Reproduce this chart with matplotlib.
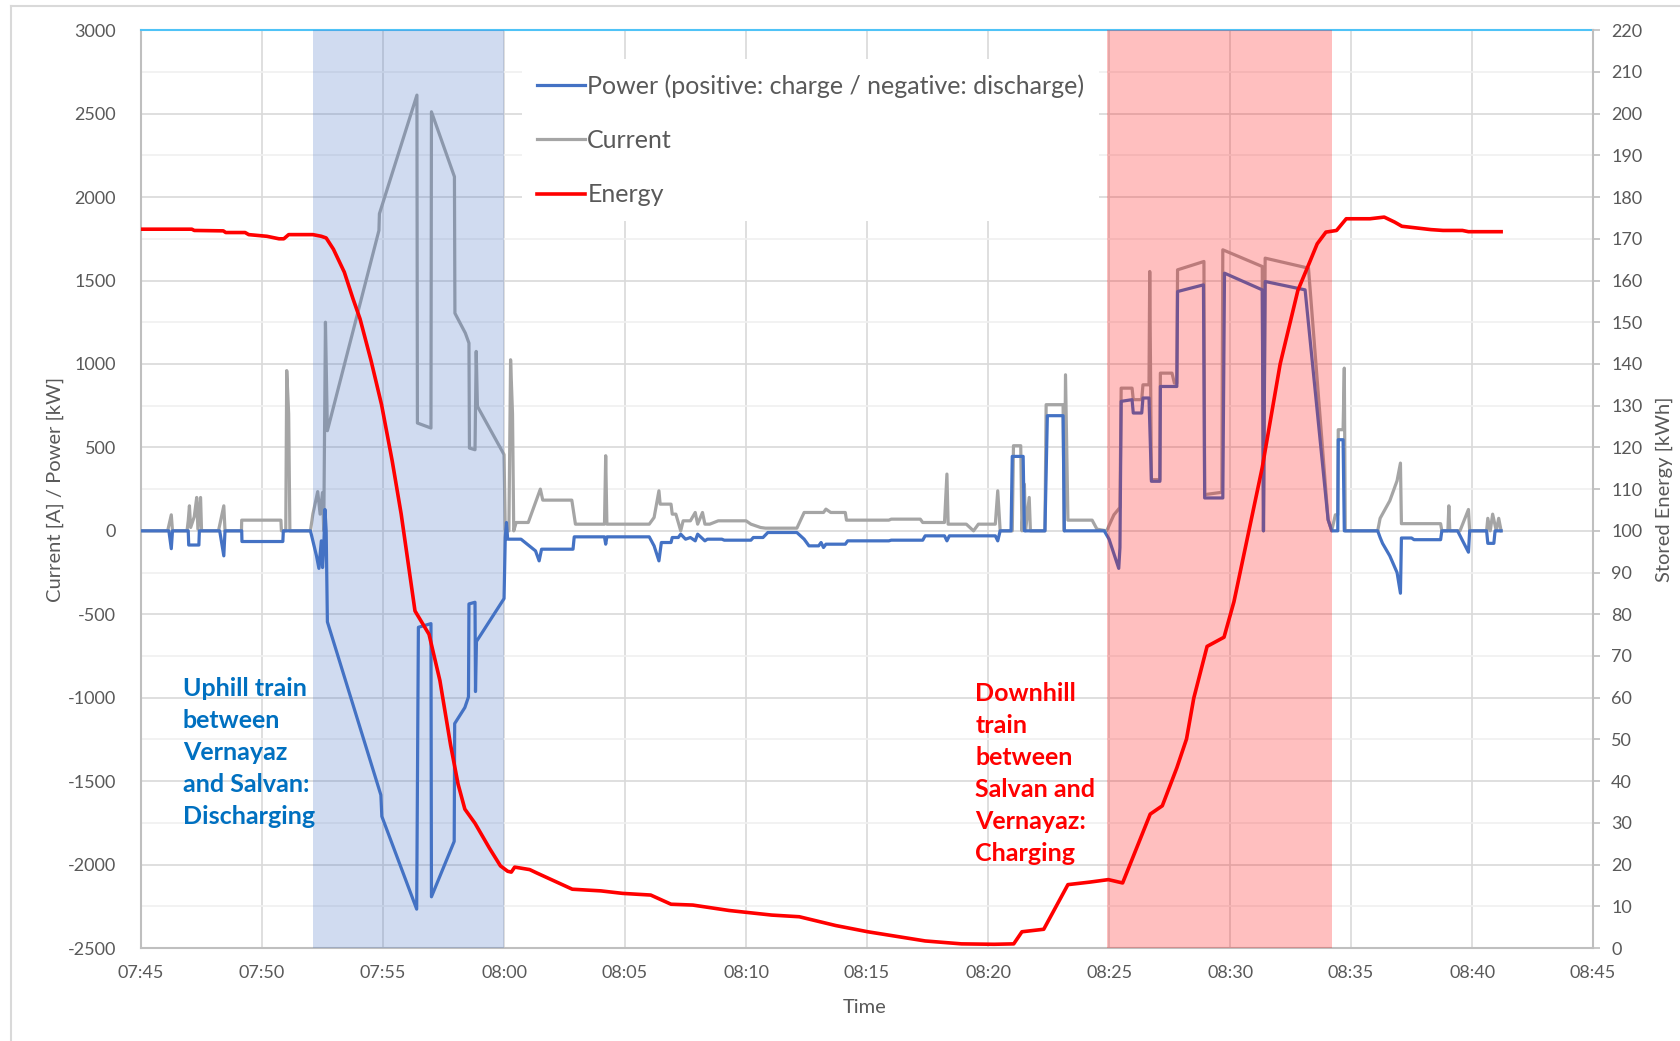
import matplotlib
matplotlib.use("Agg")
import matplotlib.pyplot as plt
from matplotlib.ticker import MultipleLocator, FuncFormatter
from matplotlib.lines import Line2D

plt.rcParams['font.family'] = ['Lato', 'DejaVu Sans']
plt.rcParams['axes.unicode_minus'] = False

# time is in minutes after 07:45
cur_t = [0, 1.1, 1.25, 1.3, 1.9, 1.95, 2.0, 2.05, 2.2, 2.3, 2.35, 2.46, 2.5, 3.2, 3.42, 3.47,
         4.15, 4.16, 5.78, 5.8, 5.98, 6.02, 6.1, 6.15, 7.0, 7.1, 7.3, 7.4, 7.5, 7.55, 7.62, 7.7,
         9.83, 9.85, 11.4, 11.42, 11.98, 12.0, 12.95, 12.97, 13.4, 13.55, 13.57, 13.8, 13.85, 13.9,
         15.0, 15.05, 15.2, 15.27, 15.35, 15.4, 15.5, 16.0, 16.5, 16.6, 17.8, 17.95, 19.15, 19.2,
         19.25, 21.0, 21.2, 21.4, 21.45, 21.9, 21.95, 22.1, 22.3, 22.4, 22.7, 22.9, 23.0, 23.2,
         23.3, 23.5, 23.85, 25.0, 25.2, 25.6, 25.8, 27.1, 27.4, 28.2, 28.3, 28.5, 29.1, 29.15,
         30.9, 31.0, 32.2, 32.3, 33.2, 33.3, 33.35, 34.1, 34.4, 34.6, 35.3, 35.4, 35.5, 36.0,
         36.05, 36.35, 36.4, 36.5, 36.55, 36.7, 36.75, 37.35, 37.4, 38.1, 38.15, 38.2, 38.3, 39.3,
         39.5, 39.9, 40.2, 40.45, 40.5, 40.95, 41.0, 41.35, 41.4, 41.65, 41.68, 41.75, 42.1, 42.12,
         42.6, 42.7, 42.8, 42.83, 43.92, 43.95, 44.66, 44.7, 46.33, 46.38, 46.45, 48.24, 49.05,
         49.2, 49.35, 49.45, 49.47, 49.67, 49.72, 49.76, 51.1, 51.2, 51.6, 51.9, 52.04, 52.08,
         53.7, 53.75, 54.0, 54.04, 54.08, 54.5, 54.85, 54.9, 55.6, 55.65, 55.75, 55.85, 56.0,
         56.1, 56.2]
cur_v = [0, 0, 96, 0, 0, 60, 150, 20, 85, 200, 10, 200, 0, 0, 150, 0,
         0, 64, 64, 0, 0, 960, 700, 0, 0, 100, 235, 100, 230, 0, 1250, 600,
         1800, 1900, 2611, 646, 616, 2511, 2122, 1304, 1185, 1125, 496, 486, 1075, 746,
         457, 0, 0, 1025, 700, 0, 50, 50, 250, 184, 184, 40, 40, 450,
         40, 40, 80, 240, 160, 160, 100, 100, 0, 60, 60, 110, 40, 110,
         40, 40, 60, 60, 40, 20, 16, 16, 110, 110, 130, 110, 110, 64,
         64, 70, 70, 50, 50, 340, 40, 40, 0, 40, 40, 240, 0, 0,
         510, 510, 0, 280, 0, 200, 0, 0, 756, 756, 0, 935, 64, 64,
         10, 0, 96, 140, 855, 855, 786, 786, 875, 875, 1554, 307, 307, 945,
         945, 885, 885, 1564, 1614, 217, 231, 1684, 1584, 0, 1634, 1574, 67,
         0, 96, 96, 606, 606, 975, 0, 0, 75, 180, 300, 406, 43,
         43, 0, 0, 150, 0, 0, 128, 0, 0, 75, 0, 100, 0,
         75, 0]

pow_t = [0, 1.15, 1.25, 1.3, 1.95, 1.97, 2.39, 2.41, 3.25, 3.42, 3.47, 4.16, 4.17, 5.86, 5.88,
         7.0, 7.1, 7.25, 7.35, 7.45, 7.5, 7.55, 7.6, 7.65, 7.7, 9.91, 9.95, 11.39, 11.46, 11.98,
         12.0, 12.94, 12.96, 13.38, 13.53, 13.55, 13.8, 13.82, 13.86, 15.0, 15.05, 15.1, 15.15,
         15.7, 16.3, 16.45, 16.55, 17.85, 17.9, 19.15, 19.2, 19.25, 21.0, 21.2, 21.4, 21.5, 21.9,
         21.95, 22.2, 22.3, 22.5, 22.7, 22.9, 23.0, 23.3, 23.4, 24.0, 24.1, 25.2, 25.3, 25.7, 25.9,
         27.1, 27.4, 27.6, 28.0, 28.1, 28.2, 28.3, 29.1, 29.2, 30.9, 31.0, 32.3, 32.4, 33.2, 33.3,
         33.4, 35.3, 35.4, 35.5, 35.95, 36.0, 36.45, 36.5, 37.35, 37.45, 38.1, 38.15,
         39.8, 40.0, 40.4, 40.45, 40.5, 40.95, 41.0, 41.35, 41.4, 41.65, 41.75, 42.1, 42.12, 42.8,
         42.83, 43.9, 43.95, 44.7, 44.77, 46.33, 46.38, 46.45, 48.1, 49.05, 49.2, 49.45, 49.47,
         49.67, 49.72, 51.1, 51.2, 51.3, 51.6, 51.9, 52.04, 52.08, 52.5, 52.6, 53.7, 53.75, 54.4,
         54.85, 54.9, 55.6, 55.65, 55.9, 55.95, 56.2]
pow_v = [0, 0, -107, 0, 0, -85, -85, 0, 0, -150, 0, 0, -64, -64, 0,
         0, -60, -150, -225, -60, -220, -100, 128, 0, -545, -1583, -1711, -2267, -578, -556,
         -2193, -1861, -1155, -1059, -995, -438, -428, -963, -663, -406, -40, 50, -50,
         -50, -120, -180, -110, -110, -36, -36, -80, -36, -36, -90, -180, -70, -70,
         -40, -40, -20, -50, -40, -60, -20, -60, -50, -50, -56, -56, -40, -40, -10,
         -10, -50, -90, -90, -70, -100, -80, -80, -60, -60, -56, -56, -30, -30, -60,
         -30, -30, -60, 0, 0, 446, 446, 0, 0, 690, 690, 0,
         0, -50, -225, -100, 776, 786, 706, 706, 796, 796, 297, 297, 865, 865,
         1434, 1474, 197, 197, 1544, 1444, 0, 1494, 1444, 67, 0, 0, 546,
         546, 0, 0, -40, -75, -150, -250, -374, -43, -43, -53, -53, 0, 0,
         -128, 0, 0, -75, -75, 0, 0]

en_t = [0, 2.1, 2.2, 3.4, 3.5, 4.3, 4.45, 5.2, 5.7, 5.9, 6.1, 7.1, 7.45, 7.65, 7.95, 8.4, 8.76,
        9.05, 9.5, 9.94, 10.38, 10.75, 11.32, 11.9, 12.35, 12.79, 13.1, 13.38, 13.8, 14.4, 14.85,
        15.15, 15.3, 15.44, 16.06, 16.35, 17.82, 19.0, 19.9, 21.06, 21.9, 22.8, 24.3, 26.06, 27.2,
        28.7, 30.03, 32.4, 33.9, 35.25, 36.06, 36.4, 37.3, 38.3, 39.2, 39.97, 40.56, 41.7, 42.2,
        42.8, 43.2, 43.5, 44.05, 44.75, 45.16, 46.33, 47.07, 47.8, 48.26, 48.6, 48.96, 49.4, 49.8,
        50.78, 51.37, 51.8, 52.1, 52.7, 53.3, 53.8, 54.6, 54.85, 56.2]
en_v = [172.3, 172.3, 172.0, 171.9, 171.5, 171.5, 171.0, 170.6, 170.0, 170.0, 171.0, 171.0,
        170.6, 170.2, 167.5, 162.0, 155.6, 150.8, 140.9, 130.2, 116.7, 104, 80.8, 75.2, 64.1,
        48.7, 39.3, 33.3, 29.9, 23.9, 19.7, 18.4, 18.2, 19.4, 18.8, 18.0, 14.1, 13.7, 13.1, 12.7,
        10.5, 10.3, 9.0, 7.9, 7.5, 5.4, 3.9, 1.7, 1.0, 0.9, 1.0, 3.9, 4.5, 15.2, 15.8, 16.4,
        15.6, 32.1, 34.1, 43.2, 50.1, 59.9, 72.3, 74.5, 83, 115.2, 140, 157.6, 164, 168.8, 171.6,
        172, 174.8, 174.8, 175.2, 174, 173, 172.6, 172.2, 172, 172, 171.7, 171.7]

discharge_span = (7.1, 15.0)
charge_span = (39.9, 49.2)
time_labels = ['07:45', '07:50', '07:55', '08:00', '08:05', '08:10', '08:15',
               '08:20', '08:25', '08:30', '08:35', '08:40', '08:45']

grey_txt = '#595959'
fig = plt.figure(figsize=(16.81, 10.41), dpi=100)
ax = fig.add_axes([0.0839, 0.0893, 0.8638, 0.8817])

l1, = ax.plot(pow_t, pow_v, color='#4472C4', lw=2.3, zorder=3,
              label='Power (positive: charge / negative: discharge)')
l2, = ax.plot(cur_t, cur_v, color='#A5A5A5', lw=2.3, zorder=2.8, label='Current')
ax.axvspan(*discharge_span, color='#4472C4', alpha=0.25, lw=0, zorder=5)
ax.axvspan(*charge_span, color='#FF0000', alpha=0.25, lw=0, zorder=5)

ax.set_xlim(0, 60)
ax.set_ylim(-2500, 3000)
ax.xaxis.set_major_locator(MultipleLocator(5))
ax.xaxis.set_major_formatter(FuncFormatter(lambda v, p: time_labels[int(round(v / 5))]
                                           if 0 <= int(round(v / 5)) < len(time_labels) else ''))
ax.yaxis.set_major_locator(MultipleLocator(500))
ax.yaxis.set_minor_locator(MultipleLocator(250))
ax.grid(True, which='major', color='#D9D9D9', lw=1.2)
ax.grid(True, which='minor', axis='y', color='#F0F0F0', lw=1.2)
ax.set_axisbelow(True)
ax.tick_params(axis='both', which='both', length=0, labelsize=13, labelcolor=grey_txt)
ax.tick_params(axis='y', pad=18)
ax.tick_params(axis='x', pad=12)
for s in ['left', 'bottom']:
    ax.spines[s].set_color('#BFBFBF')
    ax.spines[s].set_linewidth(1.5)
ax.spines['right'].set_visible(False)
ax.spines['top'].set_color('#4FC3F7')
ax.spines['top'].set_linewidth(1.5)

ax.set_ylabel('Current [A] / Power [kW]', fontsize=14.5, color=grey_txt)
ax.yaxis.set_label_coords(-0.053, 0.5)
ax.set_xlabel('Time', fontsize=14.5, color=grey_txt)
ax.xaxis.set_label_coords(0.498, -0.056)

ax2 = ax.twinx()
l3, = ax2.plot(en_t, en_v, color='#FF0000', lw=2.6, label='Energy')
ax2.set_ylim(0, 220)
ax2.yaxis.set_major_locator(MultipleLocator(10))
ax2.tick_params(axis='y', length=5, color='#BFBFBF', width=1.2, labelsize=13,
                labelcolor=grey_txt, pad=8)
for s in ['left', 'bottom', 'top']:
    ax2.spines[s].set_visible(False)
ax2.spines['right'].set_color('#BFBFBF')
ax2.spines['right'].set_linewidth(1.5)
ax2.set_ylabel('Stored Energy [kWh]', fontsize=14.5, color=grey_txt, rotation=90)
ax2.yaxis.set_label_coords(1.043, 0.5)

leg = ax2.legend(handles=[l1, l2, l3], loc='upper left', bbox_to_anchor=(0.254, 0.982),
                 frameon=True, facecolor='white', edgecolor='none', framealpha=1,
                 fontsize=18, labelspacing=1.25, handlelength=1.9, handletextpad=0.1,
                 borderpad=0.6)
for t in leg.get_texts():
    t.set_color(grey_txt)

ax2.text(1.73, -875 / 25 + 100, 'Uphill train\nbetween\nVernayaz\nand Salvan:\nDischarging',
         color='#0070C0', fontsize=18, fontweight='bold', va='top', ha='left',
         linespacing=1.47, zorder=6)
ax2.text(34.47, -905 / 25 + 100, 'Downhill\ntrain\nbetween\nSalvan and\nVernayaz:\nCharging',
         color='#FF0000', fontsize=18, fontweight='bold', va='top', ha='left',
         linespacing=1.47, zorder=6)

fig.add_artist(Line2D([0.0065, 0.0065], [0, 0.994], color='#D9D9D9', lw=1.5))
fig.add_artist(Line2D([0.0065, 1], [0.994, 0.994], color='#D9D9D9', lw=1.5))

fig.savefig('out.png', dpi=100)
